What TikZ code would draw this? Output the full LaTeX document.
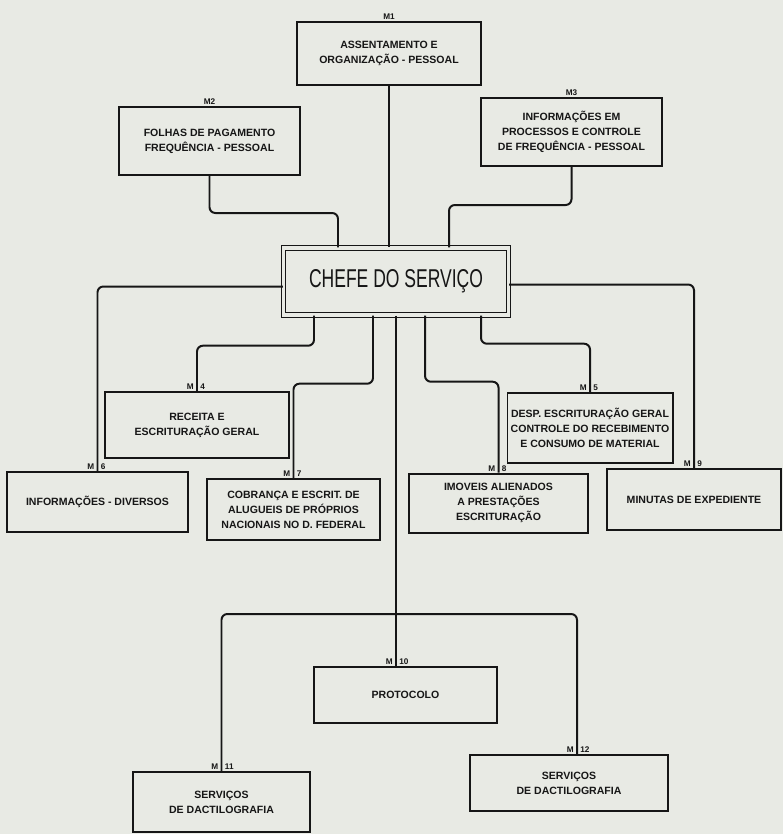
\documentclass[tikz,border=0pt]{standalone}
\usepackage{fontspec}
\usepackage{graphicx}
\setmainfont{Liberation Sans}
\usetikzlibrary{calc}

\definecolor{papel}{RGB}{232,234,228}
\definecolor{tinta}{RGB}{22,22,22}

\tikzset{
  caixa/.style={draw=tinta, line width=1.7pt, align=center, inner sep=0pt, text=tinta,
    font=\bfseries\fontsize{9}{12.7}\selectfont},
  ramo/.style={draw=tinta, line width=1.7pt, rounded corners=5pt},
  rotulo/.style={text=tinta, inner sep=1pt, font=\bfseries\fontsize{7}{8}\selectfont},
}

\begin{document}
\begin{tikzpicture}[x=0.03cm,y=-0.03cm]
\useasboundingbox[fill=papel] (0,0) rectangle (783,834);

% chefia
\node[caixa, double=papel, double distance=2.6pt, line width=1.2pt,
  minimum width=6.75cm, minimum height=2.01cm, font=\fontsize{22}{24}\selectfont]
  (chefe) at (396,281.5) {\scalebox{0.68}[1]{CHEFE DO SERVIÇO}};

% secoes de cima
\node[caixa, minimum width=5.52cm, minimum height=1.89cm] (m1) at (389,53.5)
  {ASSENTAMENTO E\\ORGANIZAÇÃO - PESSOAL};
\node[caixa, minimum width=5.43cm, minimum height=2.04cm] (m2) at (209.5,141)
  {FOLHAS DE PAGAMENTO\\FREQUÊNCIA - PESSOAL};
\node[caixa, minimum width=5.43cm, minimum height=2.04cm] (m3) at (571.5,132)
  {INFORMAÇÕES EM\\PROCESSOS E CONTROLE\\DE FREQUÊNCIA - PESSOAL};
\node[rotulo, anchor=south] at (m1.north) {M1};
\node[rotulo, anchor=south] at (m2.north) {M2};
\node[rotulo, anchor=south] at (m3.north) {M3};

% secoes de baixo
\node[caixa, minimum width=5.52cm, minimum height=1.98cm] (m4) at (197,425)
  {RECEITA E\\ESCRITURAÇÃO GERAL};
\node[caixa, minimum width=4.95cm, minimum height=2.1cm] (m5) at (590,428)
  {DESP. ESCRITURAÇÃO GERAL\\CONTROLE DO RECEBIMENTO\\E CONSUMO DE MATERIAL};
\node[caixa, minimum width=5.43cm, minimum height=1.8cm] (m6) at (97.5,502)
  {INFORMAÇÕES - DIVERSOS};
\node[caixa, minimum width=5.19cm, minimum height=1.83cm] (m7) at (293.5,509.5)
  {COBRANÇA E ESCRIT. DE\\ALUGUEIS DE PRÓPRIOS\\NACIONAIS NO D. FEDERAL};
\node[caixa, minimum width=5.37cm, minimum height=1.77cm] (m8) at (498.5,503)
  {IMOVEIS ALIENADOS\\A PRESTAÇÕES\\ESCRITURAÇÃO};
\node[caixa, minimum width=5.22cm, minimum height=1.83cm] (m9) at (694,499.5)
  {MINUTAS DE EXPEDIENTE};
\node[caixa, minimum width=5.49cm, minimum height=1.68cm] (m10) at (405.5,695)
  {PROTOCOLO};
\node[caixa, minimum width=5.31cm, minimum height=1.8cm] (m11) at (221.5,802)
  {SERVIÇOS\\DE DACTILOGRAFIA};
\node[caixa, minimum width=5.94cm, minimum height=1.68cm] (m12) at (569,783)
  {SERVIÇOS\\DE DACTILOGRAFIA};

% ligacoes
\draw[ramo] (m1.south) -- (m1.south |- chefe.north);
\draw[ramo] (m2.south) -- (m2.south |- 0,213) -| ($(chefe.north)+(-58,0)$);
\draw[ramo] (m3.south) -- (m3.south |- 0,205) -| ($(chefe.north)+(53,0)$);
\draw[ramo] ($(chefe.west)+(0,5)$) -| (m6.north);
\draw[ramo] ($(chefe.east)+(0,3)$) -| (m9.north);
\draw[ramo] ($(chefe.south)+(-82,0)$) -- ++(0,30) -| (m4.north);
\draw[ramo] ($(chefe.south)+(-23,0)$) -- ++(0,68) -| (m7.north);
\draw[ramo] ($(chefe.south)+(29,0)$) -- ++(0,66) -| (m8.north);
\draw[ramo] ($(chefe.south)+(85,0)$) -- ++(0,28) -| (m5.north);
\coordinate (barra) at (chefe.south |- 0,614);
\coordinate (p12) at ($(m12.north)+(8,0)$);
\draw[ramo] (chefe.south) -- (chefe.south |- m10.north);
\draw[ramo] (m11.north) |- (barra) -| (p12);

\foreach \n/\k in {m4/4, m5/5, m6/6, m7/7, m8/8, m9/9, m11/11} {
  \node[rotulo, anchor=south east] at ($(\n.north)+(-2,0)$) {M};
  \node[rotulo, anchor=south west] at ($(\n.north)+(2,0)$) {\k};
}
\node[rotulo, anchor=south east] at ($(p12)+(-2,0)$) {M};
\node[rotulo, anchor=south west] at ($(p12)+(2,0)$) {12};
\node[rotulo, anchor=south east] at ($(chefe.south |- m10.north)+(-2,0)$) {M};
\node[rotulo, anchor=south west] at ($(chefe.south |- m10.north)+(2,0)$) {10};
\end{tikzpicture}
\end{document}
